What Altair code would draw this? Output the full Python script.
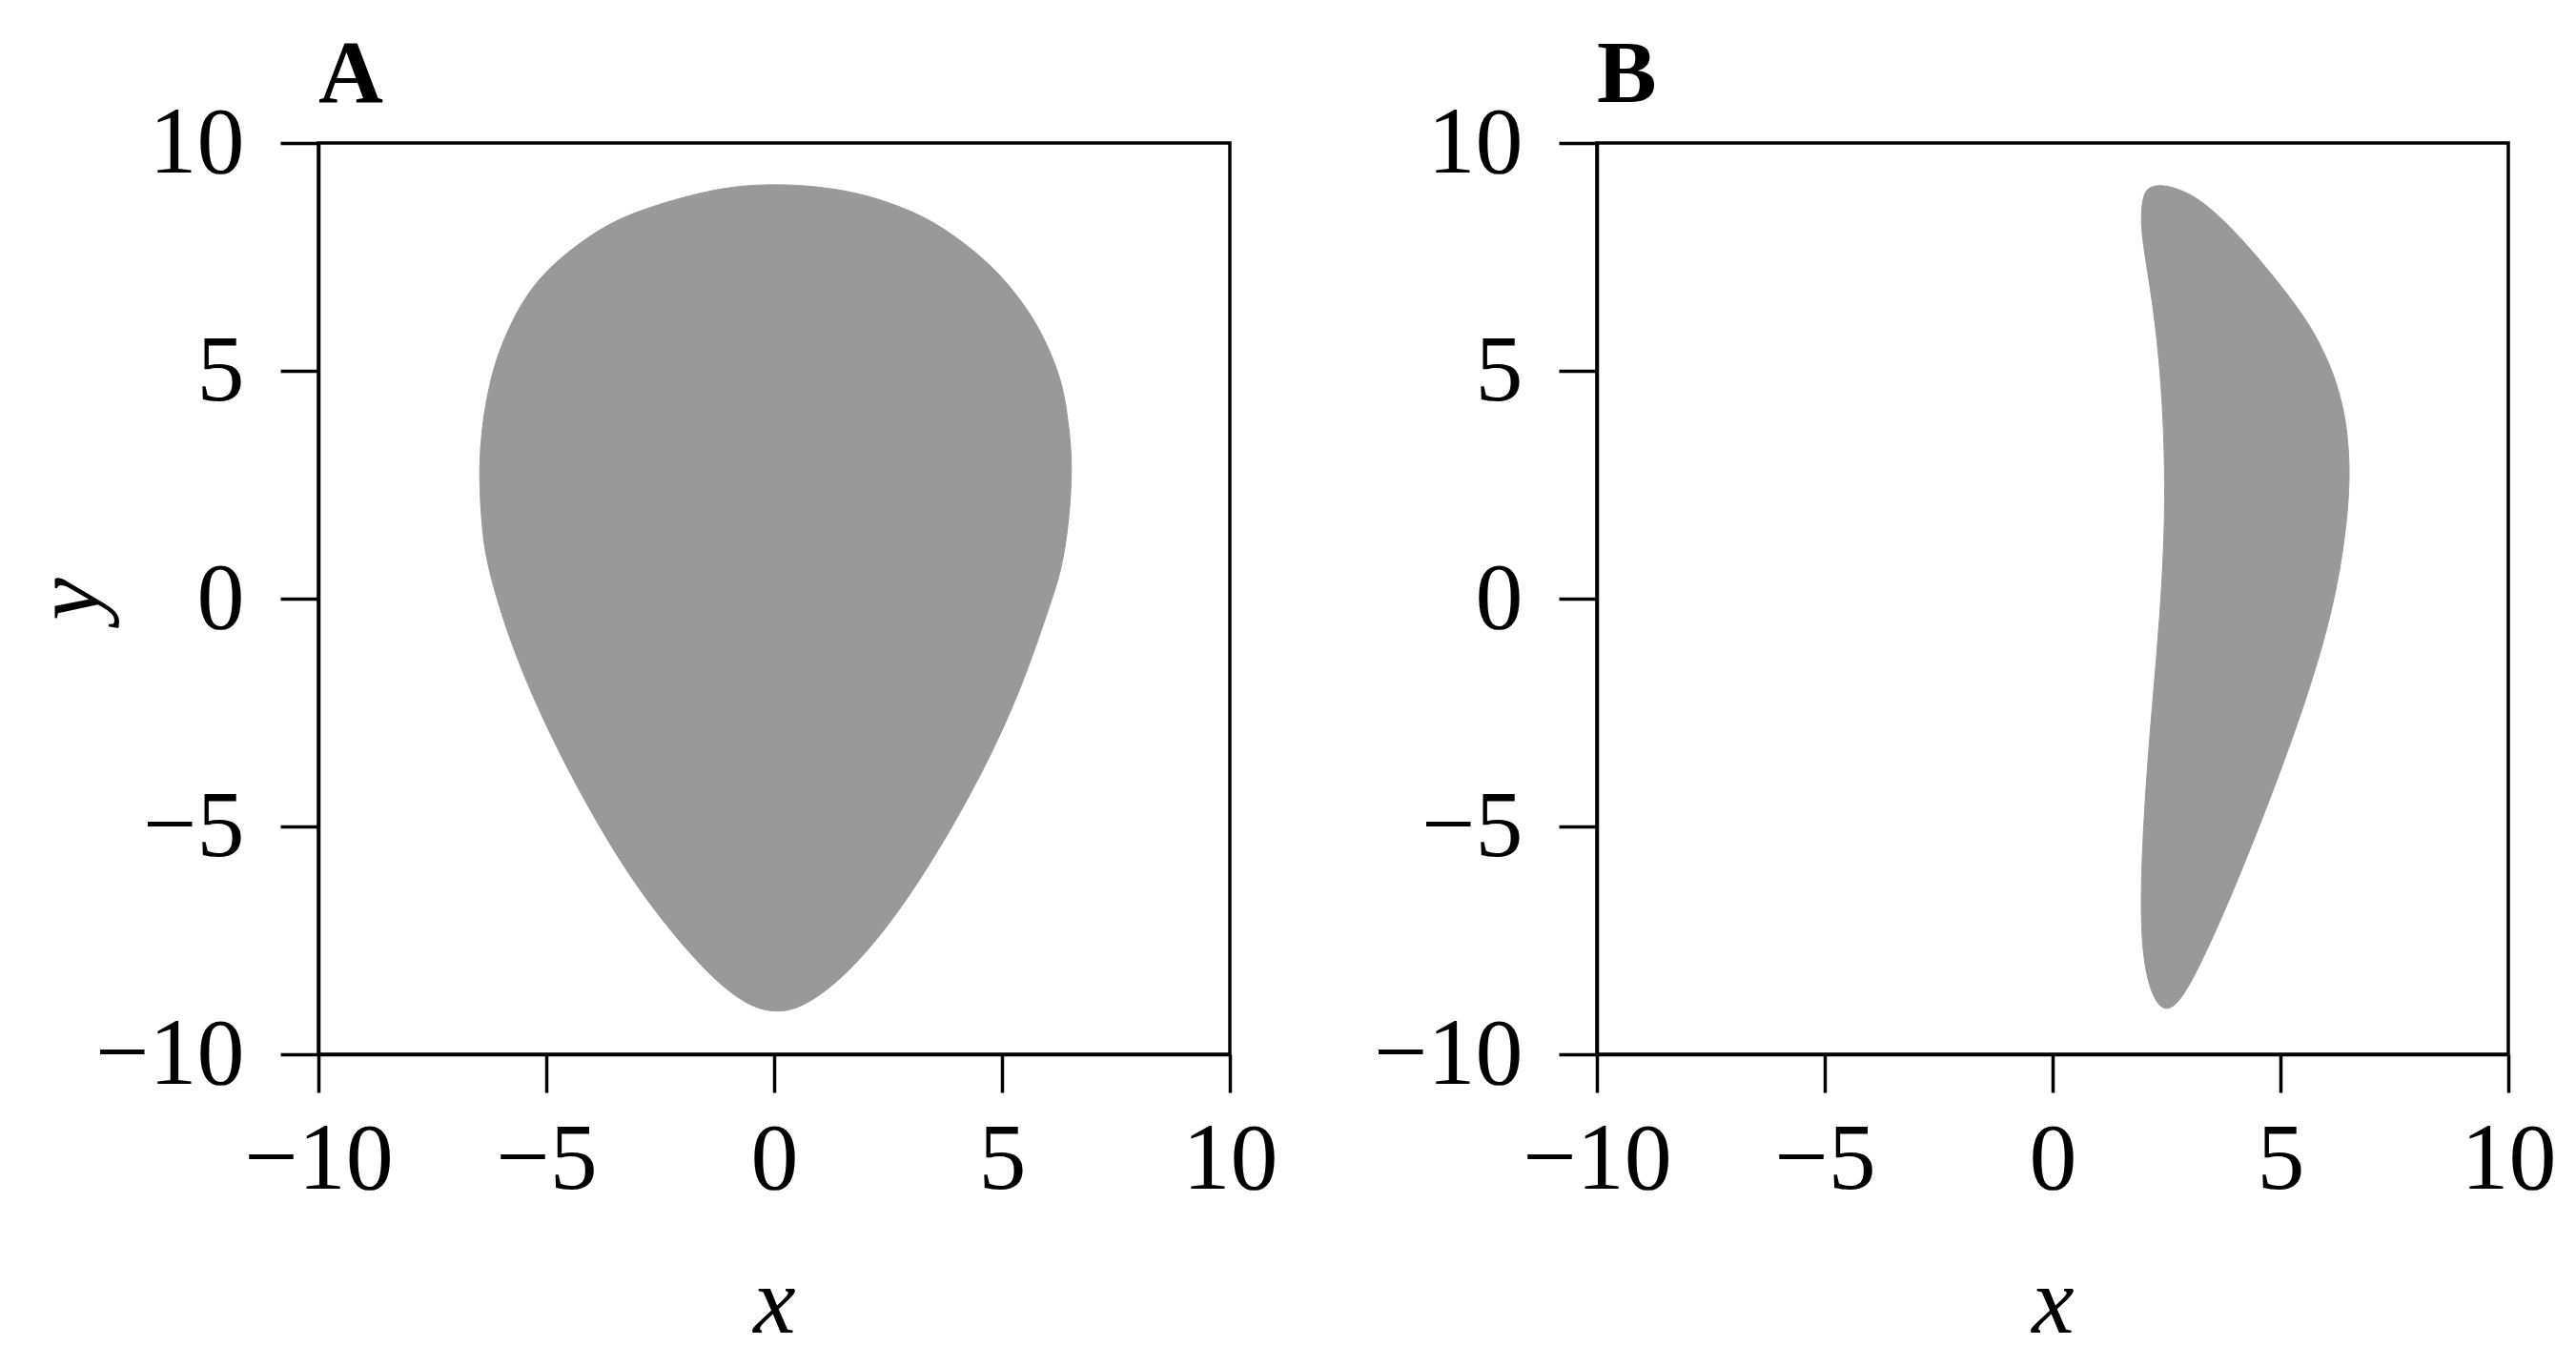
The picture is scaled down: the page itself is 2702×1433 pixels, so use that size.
import altair as alt
import pandas as pd

# Panel A: teardrop outline (traced clockwise from the top)
a_x = [0, 1.0, 2.02, 3.0, 3.68, 4.61, 5.25, 5.74, 6.08, 6.33, 6.44, 6.52, 6.53, 6.46, 6.3,
       6.07, 5.43, 4.54, 3.52, 2.5, 1.48, 0.59, 0,
       -0.56, -1.33, -2.35, -3.37, -4.39, -5.15, -5.79, -6.3, -6.42, -6.47, -6.45,
       -6.38, -6.25, -6.06, -5.76, -5.37, -4.73, -3.76, -2.97, -1.8, -0.9]
a_y = [9.1, 9.05, 8.87, 8.52, 8.17, 7.47, 6.78, 6.08, 5.38, 4.69, 3.99, 3.29, 2.6, 1.6, 0.6,
       -0.08, -1.99, -3.9, -5.69, -7.22, -8.37, -9.0, -9.09,
       -8.94, -8.37, -7.22, -5.82, -4.03, -2.5, -0.97, 0.69, 1.62, 2.6, 3.29,
       3.99, 4.69, 5.38, 6.08, 6.78, 7.47, 8.17, 8.52, 8.87, 9.05]

# Panel B: crescent outline (traced clockwise from the top)
b_x = [2.43, 3.13, 3.9, 4.52, 5.08, 5.6, 5.98, 6.25, 6.42, 6.5, 6.52, 6.39, 6.07, 5.43,
       4.67, 3.9, 3.27, 2.82, 2.47, 2.18, 1.97, 1.93, 1.99, 2.09, 2.22, 2.35, 2.44, 2.47,
       2.43, 2.33, 2.16, 1.91, 1.98, 2.12]
b_y = [9.1, 8.87, 8.17, 7.47, 6.78, 6.08, 5.38, 4.69, 3.99, 3.29, 2.4, 1.07, -0.59, -2.63,
       -4.67, -6.58, -7.98, -8.83, -9.09, -8.75, -7.86, -6.58, -5.05, -3.52, -1.99, -0.46, 1.07, 2.4,
       3.99, 5.38, 6.78, 8.17, 8.87, 9.04]

ticks = [-10, -5, 0, 5, 10]
panel_labels = ["A", "B"]

FONT = "Liberation Serif"
FILL = "#999999"
W = 956


def panel(xs, ys, label, show_y_title):
    df = pd.DataFrame({"x": xs, "y": ys, "i": list(range(len(xs)))})
    xax = alt.Axis(values=ticks, title="x", labelPadding=21, titlePadding=52)
    if show_y_title:
        yax = alt.Axis(values=ticks, title="y", labelPadding=38, titlePadding=10)
    else:
        yax = alt.Axis(values=ticks, title=None, labelPadding=38)
    return (
        alt.Chart(df)
        .mark_line(interpolate="basis-closed", fill=FILL, stroke=FILL, strokeWidth=1)
        .encode(
            x=alt.X("x:Q", scale=alt.Scale(domain=[-10, 10], nice=False), axis=xax),
            y=alt.Y("y:Q", scale=alt.Scale(domain=[-10, 10], nice=False), axis=yax),
            order=alt.Order("i:Q"),
        )
        .properties(
            width=W,
            height=W,
            title=alt.TitleParams(
                label, anchor="start", frame="group", font=FONT, fontSize=94,
                fontWeight="bold", baseline="alphabetic", offset=-101, color="black",
            ),
        )
    )


chart = (
    alt.hconcat(
        panel(a_x, a_y, panel_labels[0], True),
        panel(b_x, b_y, panel_labels[1], False),
        spacing=385,
        bounds="flush",
    )
    .properties(padding={"left": 13, "top": 22, "right": 5, "bottom": 5}, background="white")
    .configure_view(stroke="black", strokeWidth=3.5)
    .configure_axis(
        grid=False,
        labelFont=FONT,
        labelFontSize=100,
        labelColor="black",
        titleFont=FONT,
        titleFontSize=100,
        titleFontStyle="italic",
        titleFontWeight="normal",
        titleColor="black",
        tickSize=40,
        tickWidth=3.5,
        tickColor="black",
        domainColor="black",
        domainWidth=3.5,
        labelFlush=False,
        labelOverlap=False,
    )
)

chart.save("out.html", embed_options={"renderer": "svg", "actions": False})
